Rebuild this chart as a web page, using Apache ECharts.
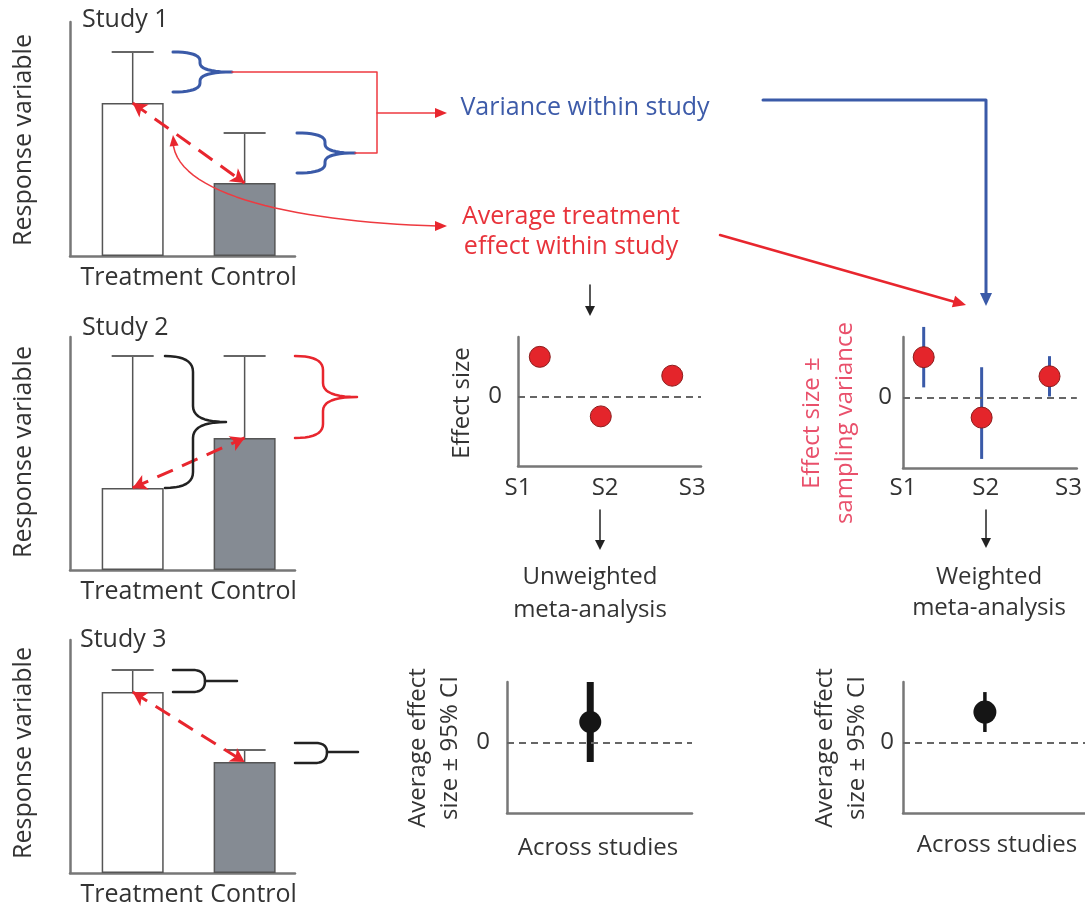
<!DOCTYPE html>
<html><head><meta charset="utf-8">
<script src="https://cdn.jsdelivr.net/npm/echarts@6/dist/echarts.min.js"></script>
<style>html,body{margin:0;padding:0;background:#fff}#c{width:1085px;height:915px}</style>
</head><body><div id="c"></div>
<script>
// ---- data ----
const groups = ['Treatment', 'Control'];
const studyTitles = ['Study 1', 'Study 2', 'Study 3'];
const study1Mean = [65.4, 31.2];
const study1Upper = [87.2, 52.6];
const study2Mean = [35.2, 56.7];
const study2Upper = [91.8, 91.8];
const study3Mean = [77.7, 47.6];
const study3Upper = [87.1, 52.8];
const studyCodes = ['S1', 'S2', 'S3'];
const studyX = [0.25, 0.95, 1.77];
const effectSize = [2.0, -1.0, 1.05];
const varLow = [0.5, -3.05, 0.05];
const varHigh = [3.5, 1.5, 2.05];
const acrossX = [0.45];
const unweightedMean = [1.02];
const unweightedLow = [-0.97];
const unweightedHigh = [3.0];
const weightedMean = [1.51];
const weightedLow = [0.52];
const weightedHigh = [2.5];

// ---- style constants ----
const FONT = '"Open Sans", "DejaVu Sans", sans-serif';
const TXT = '#333';
const AXIS = '#777';
const RED = '#e8262e';
const BLUE = '#3a5aa8';

const means = [study1Mean, study2Mean, study3Mean];
const uppers = [study1Upper, study2Upper, study3Upper];
const barGrids = [
  {left: 70, top: 22, width: 225, height: 234},
  {left: 70, top: 337, width: 225, height: 233},
  {left: 70, top: 640, width: 225, height: 233}
];
const grids = barGrids.concat([
  {left: 518, top: 337, width: 183, height: 129},
  {left: 903, top: 337, width: 183, height: 131},
  {left: 507, top: 682, width: 185, height: 131},
  {left: 903, top: 682, width: 185, height: 131}
]);

const axisLine = {show: true, onZero: false, lineStyle: {color: AXIS, width: 2.5}};
const xAxes = [], yAxes = [], series = [];

barGrids.forEach((g, i) => {
  xAxes.push({gridIndex: i, type: 'value', min: -0.56, max: 1.45,
    axisLine: axisLine, axisTick: {show: false}, splitLine: {show: false},
    axisLabel: {customValues: [0, 1], formatter: v => groups[Math.round(v)],
      fontSize: 25, color: TXT, fontFamily: FONT, margin: 9, padding: [0, 0, 0, 18]}});
  yAxes.push({gridIndex: i, type: 'value', min: 0, max: 100,
    axisLine: axisLine, axisTick: {show: false}, splitLine: {show: false}, axisLabel: {show: false}});
  const m = means[i], u = uppers[i];
  series.push({
    type: 'bar', xAxisIndex: i, yAxisIndex: i, barWidth: 62, z: 2,
    data: m.map((v, k) => ({value: [k, v], itemStyle: {color: k === 0 ? '#ffffff' : '#858b93'}})),
    itemStyle: {borderColor: '#555', borderWidth: 1.5},
    markLine: {silent: true, symbol: ['arrow', 'arrow'], symbolSize: [12, 14],
      label: {show: false},
      lineStyle: {color: RED, width: 3, type: [17, 10]},
      data: [[{coord: [0, m[0]]}, {coord: [1, m[1]]}]]}
  });
  series.push({
    type: 'custom', xAxisIndex: i, yAxisIndex: i, z: 3,
    data: m.map((v, k) => [k, v, u[k]]),
    renderItem: (params, api) => {
      const b = api.coord([api.value(0), api.value(1)]);
      const t = api.coord([api.value(0), api.value(2)]);
      return {type: 'group', children: [
        {type: 'line', shape: {x1: b[0], y1: b[1], x2: t[0], y2: t[1]}, style: {stroke: '#555', lineWidth: 1.5}},
        {type: 'line', shape: {x1: t[0] - 21, y1: t[1], x2: t[0] + 21, y2: t[1]}, style: {stroke: '#666', lineWidth: 2}}
      ]};
    }
  });
});

// scatter grids (3: unweighted, 4: weighted)
[3, 4].forEach((gi, j) => {
  xAxes.push({gridIndex: gi, type: 'value', min: 0, max: 2.1,
    axisLine: axisLine, axisTick: {show: false}, splitLine: {show: false},
    axisLabel: {customValues: [0, 1, 2], formatter: v => studyCodes[Math.round(v)],
      fontSize: 24, color: TXT, fontFamily: FONT, margin: j === 0 ? 10 : 8}});
  yAxes.push({gridIndex: gi, type: 'value', min: -3.5, max: 3,
    axisLine: axisLine, axisTick: {show: false}, splitLine: {show: false},
    axisLabel: {customValues: [0], formatter: () => '0', fontSize: 24, color: TXT, fontFamily: FONT,
      margin: j === 0 ? 16 : 11}});
});
// CI grids (5,6)
[5, 6].forEach((gi, j) => {
  xAxes.push({gridIndex: gi, type: 'value', min: 0, max: 1,
    axisLine: axisLine, axisTick: {show: false}, splitLine: {show: false}, axisLabel: {show: false}});
  yAxes.push({gridIndex: gi, type: 'value', min: -3.5, max: 3,
    axisLine: axisLine, axisTick: {show: false}, splitLine: {show: false},
    axisLabel: {customValues: [0], formatter: () => '0', fontSize: 24, color: TXT, fontFamily: FONT,
      margin: j === 0 ? 17 : 9}});
});

const zeroLine = {silent: true, symbol: 'none', label: {show: false},
  lineStyle: {color: '#666', type: [7, 5], width: 2}, data: [{yAxis: 0}]};

function rangeSeries(idx, xs, lows, highs, color, width) {
  return {type: 'custom', xAxisIndex: idx, yAxisIndex: idx, z: 4, clip: false,
    data: xs.map((x, k) => [x, lows[k], highs[k]]),
    renderItem: (params, api) => {
      const a = api.coord([api.value(0), api.value(1)]);
      const b = api.coord([api.value(0), api.value(2)]);
      return {type: 'line', shape: {x1: a[0], y1: a[1], x2: b[0], y2: b[1]}, style: {stroke: color, lineWidth: width}};
    }};
}

// unweighted scatter
series.push({type: 'scatter', xAxisIndex: 3, yAxisIndex: 3, z: 5, symbolSize: 21,
  data: studyX.map((x, k) => [x, effectSize[k]]),
  itemStyle: {color: '#e4252b', borderColor: '#8c1c1c', borderWidth: 1, opacity: 1},
  markLine: zeroLine});
// weighted scatter with sampling variance
series.push(rangeSeries(4, studyX, varLow, varHigh, BLUE, 3));
series.push({type: 'scatter', xAxisIndex: 4, yAxisIndex: 4, z: 5, symbolSize: 21,
  data: studyX.map((x, k) => [x, effectSize[k]]),
  itemStyle: {color: '#e4252b', borderColor: '#8c1c1c', borderWidth: 1, opacity: 1},
  markLine: zeroLine});
// CI plots
series.push(rangeSeries(5, acrossX, unweightedLow, unweightedHigh, '#151515', 7));
series.push({type: 'scatter', xAxisIndex: 5, yAxisIndex: 5, z: 5, symbolSize: 22,
  data: acrossX.map((x, k) => [x, unweightedMean[k]]),
  itemStyle: {color: '#151515', opacity: 1}, markLine: zeroLine});
series.push(rangeSeries(6, acrossX, weightedLow, weightedHigh, '#151515', 3.5));
series.push({type: 'scatter', xAxisIndex: 6, yAxisIndex: 6, z: 5, symbolSize: 23,
  data: acrossX.map((x, k) => [x, weightedMean[k]]),
  itemStyle: {color: '#151515', opacity: 1}, markLine: zeroLine});

// ---- annotation helpers ----
function quad(p0, c, p1, n) {
  n = n || 10; const pts = [];
  for (let i = 1; i <= n; i++) {
    const t = i / n, s = 1 - t;
    pts.push([s * s * p0[0] + 2 * s * t * c[0] + t * t * p1[0], s * s * p0[1] + 2 * s * t * c[1] + t * t * p1[1]]);
  }
  return pts;
}
function cubic(p0, c1, c2, p1, n) {
  n = n || 30; const pts = [p0];
  for (let i = 1; i <= n; i++) {
    const t = i / n, s = 1 - t;
    pts.push([s*s*s*p0[0] + 3*s*s*t*c1[0] + 3*s*t*t*c2[0] + t*t*t*p1[0],
              s*s*s*p0[1] + 3*s*s*t*c1[1] + 3*s*t*t*c2[1] + t*t*t*p1[1]]);
  }
  return pts;
}
function brace(x0, yTop, yBot, xm, xTip, yTip, r) {
  let pts = [[x0, yTop]];
  pts = pts.concat(quad([x0, yTop], [xm, yTop], [xm, yTop + r]));
  pts.push([xm, yTip - r]);
  pts = pts.concat(quad([xm, yTip - r], [xm, yTip], [xTip, yTip]));
  pts = pts.concat(quad([xTip, yTip], [xm, yTip], [xm, yTip + r]));
  pts.push([xm, yBot - r]);
  pts = pts.concat(quad([xm, yBot - r], [xm, yBot], [x0, yBot]));
  return pts;
}
function fork(x0, yTop, yBot, xr, xEnd, yMid) {
  const xa = xr - 12;
  let pts = [[x0, yTop], [xa, yTop]];
  pts = pts.concat(quad([xa, yTop], [xr, yTop], [xr, yMid]));
  pts = pts.concat(quad([xr, yMid], [xr, yBot], [xa, yBot]));
  pts.push([x0, yBot]);
  return [pts, [[xr, yMid], [xEnd, yMid]]];
}
function poly(pts, color, width) {
  return {type: 'polyline', z: 100, shape: {points: pts}, style: {stroke: color, lineWidth: width, fill: null, lineJoin: 'round', lineCap: 'round'}};
}
function head(tip, dx, dy, L, W, color) {
  const len = Math.hypot(dx, dy), ux = dx / len, uy = dy / len;
  const bx = tip[0] - ux * L, by = tip[1] - uy * L;
  return {type: 'polygon', z: 101, shape: {points: [tip, [bx - uy * W, by + ux * W], [bx + uy * W, by - ux * W]]},
    style: {fill: color, stroke: null}};
}
function text(t, x, y, opts) {
  opts = opts || {};
  return {type: 'text', z: 102, x: x, y: y, rotation: opts.rot ? Math.PI / 2 : 0,
    style: {text: t, x: 0, y: 0, font: (opts.size || 24) + 'px ' + FONT, fill: opts.color || TXT,
      textAlign: opts.align || 'center', textVerticalAlign: 'middle', align: opts.align || 'center', verticalAlign: 'middle'}};
}

const graphics = [];
// braces
graphics.push(poly(brace(173, 52, 92, 200, 232, 72, 9), BLUE, 3));
graphics.push(poly(brace(297, 133, 173, 325, 355, 153, 9), BLUE, 3));
graphics.push(poly(brace(165, 356, 488, 193, 226, 422, 16), '#222', 2.5));
graphics.push(poly(brace(295, 356, 438, 323, 357, 397, 14), RED, 2.5));
fork(173, 670, 692, 205, 237, 681).forEach(p => graphics.push(poly(p, '#222', 2.5)));
fork(295, 743, 763, 327, 358, 752).forEach(p => graphics.push(poly(p, '#222', 2.5)));
// thin red connectors
graphics.push(poly([[232, 72], [377, 72], [377, 153], [355, 153]], '#ee3a40', 1.5));
graphics.push(poly([[377, 113], [438, 113]], '#ee3a40', 1.5));
graphics.push(head([447, 113], 1, 0, 12, 5, RED));
graphics.push(poly(cubic([173, 142], [176, 196], [300, 222], [438, 226]), '#ee3a40', 1.5));
graphics.push(head([173, 135], -0.1, -1, 11, 4.5, RED));
graphics.push(head([447, 226], 1, 0, 12, 5, RED));
// flows to weighted panel
graphics.push(poly([[763, 100], [986, 100], [986, 294]], BLUE, 3));
graphics.push(head([986, 306], 0, 1, 13, 6, BLUE));
graphics.push(poly([[720, 235], [955, 302]], RED, 2.5));
graphics.push(head([966, 305], 246, 70, 13, 6, RED));
// down arrows
[[590, 285, 316], [600, 510, 550], [986, 510, 548]].forEach(a => {
  graphics.push(poly([[a[0], a[1]], [a[0], a[2] - 8]], '#222', 1.5));
  graphics.push(head([a[0], a[2]], 0, 1, 10, 5, '#222'));
});
// texts
graphics.push(text(studyTitles[0], 82, 20, {align: 'left', size: 25}));
graphics.push(text(studyTitles[1], 82, 328, {align: 'left', size: 25}));
graphics.push(text(studyTitles[2], 80, 640, {align: 'left', size: 25}));
[140, 452, 753].forEach(y => graphics.push(text('Response variable', 24, y, {rot: true, size: 25})));
graphics.push(text('Variance within study', 585, 108, {size: 25, color: '#3d5ba9'}));
graphics.push(text('Average treatment', 571, 217, {size: 25, color: '#e8333b'}));
graphics.push(text('effect within study', 571, 247, {size: 25, color: '#e8333b'}));
graphics.push(text('Effect size', 462, 403, {rot: true}));
graphics.push(text('Unweighted', 590, 577));
graphics.push(text('meta-analysis', 590, 610));
graphics.push(text('Effect size ±', 812, 423, {rot: true, color: '#e9506b'}));
graphics.push(text('sampling variance', 845, 423, {rot: true, color: '#e9506b'}));
graphics.push(text('Weighted', 989, 577));
graphics.push(text('meta-analysis', 989, 608));
graphics.push(text('Average effect', 418, 748, {rot: true}));
graphics.push(text('size ± 95% CI', 450, 748, {rot: true}));
graphics.push(text('Average effect', 825, 748, {rot: true}));
graphics.push(text('size ± 95% CI', 857, 748, {rot: true}));
graphics.push(text('Across studies', 598, 848));
graphics.push(text('Across studies', 997, 845));

const chart = echarts.init(document.getElementById('c'), null, {renderer: 'canvas'});
chart.setOption({
  animation: false,
  backgroundColor: '#ffffff',
  grid: grids,
  xAxis: xAxes,
  yAxis: yAxes,
  series: series,
  graphic: graphics
});
</script></body></html>
